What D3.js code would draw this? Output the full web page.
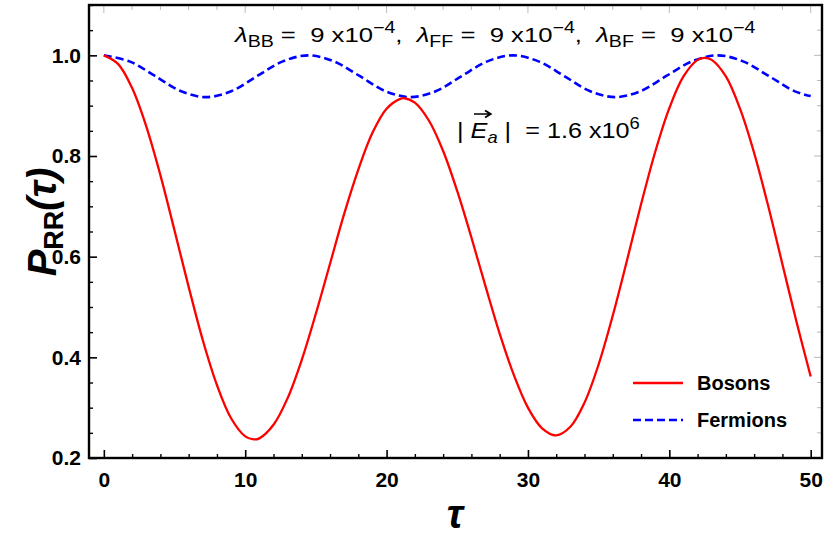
<!DOCTYPE html>
<html><head><meta charset="utf-8">
<script src="https://cdn.jsdelivr.net/npm/d3@7"></script>
<style>body{margin:0;background:#fff} text{white-space:pre}</style>
</head><body>
<script>
// ---- data ----
const bosonTau = [0,1,2,3,4,5,6,7,8,9,10,10.6,11,12,13,14,15,16,17,18,19,20,21,21.2,22,23,24,25,26,27,28,29,30,31,32,33,34,35,36,37,38,39,40,41,42,42.5,43,44,45,46,47,48,49,50];
const bosonP   = [1.0,0.983,0.935,0.859,0.762,0.652,0.540,0.434,0.345,0.279,0.243,0.237,0.239,0.266,0.319,0.395,0.487,0.586,0.685,0.773,0.846,0.894,0.914,0.915,0.906,0.870,0.810,0.730,0.638,0.541,0.447,0.365,0.300,0.259,0.245,0.262,0.310,0.386,0.483,0.592,0.704,0.808,0.895,0.958,0.991,0.995,0.991,0.958,0.894,0.806,0.700,0.585,0.470,0.362];
const fermionTau = [0,1.81,3.62,5.43,7.23,9.04,10.85,12.66,14.47,16.28,18.09,19.9,21.7,23.51,25.32,27.13,28.94,30.75,32.56,34.37,36.17,37.98,39.79,41.6,43.41,45.22,47.03,48.84,50];
const fermionP   = [1.0,0.988,0.959,0.929,0.917,0.929,0.959,0.988,1.0,0.988,0.959,0.929,0.917,0.929,0.959,0.988,1.0,0.988,0.959,0.929,0.917,0.929,0.959,0.988,1.0,0.988,0.959,0.929,0.919];
const xTicks = [0,10,20,30,40,50];
const yTicks = [0.2,0.4,0.6,0.8,1.0];
const yTickLabels = ["0.2","0.4","0.6","0.8","1.0"];
const legendLabels = ["Bosons","Fermions"];

const W = 830, H = 545;
const L = 89, R = 822, T = 5, B = 458;
const svg = d3.select("body").append("svg").attr("width", W).attr("height", H)
  .style("font-family", "'Liberation Sans', Arial, sans-serif");

const x = d3.scaleLinear().domain([-1.05, 50.8]).range([L, R]);
const y = d3.scaleLinear().domain([0.2, 1.1]).range([B, T]);

const narrow = "'Liberation Sans Narrow', 'Liberation Sans', Arial, sans-serif";

const xMinor = d3.range(0, 51, 2);
const yMinor = d3.range(0.2, 1.101, 0.05);
const isTenth = d => Math.abs(d * 5 - Math.round(d * 5)) < 1e-6;

// top/right gray ticks
const g = svg.append("g");
g.selectAll(".tt").data(xMinor).join("line")
  .attr("x1", d => x(d)).attr("x2", d => x(d))
  .attr("y1", T).attr("y2", d => T + (d % 10 === 0 ? 8 : 5))
  .attr("stroke", "#bbb").attr("stroke-width", 1);
g.selectAll(".rt").data(yMinor).join("line")
  .attr("y1", d => y(d)).attr("y2", d => y(d))
  .attr("x1", R).attr("x2", d => R - (isTenth(d) ? 8 : 5))
  .attr("stroke", "#bbb").attr("stroke-width", 1);

// bottom axis
const xAxis = d3.axisBottom(x).tickValues(xTicks).tickSize(-8).tickPadding(14).tickFormat(d3.format("d"));
const gx = svg.append("g").attr("transform", `translate(0,${B})`).call(xAxis);
gx.select(".domain").remove();
gx.selectAll(".tick line").attr("stroke", "#000").attr("stroke-width", 1.6);
gx.selectAll(".tick text").attr("font-family", narrow).attr("font-weight", "bold").attr("font-size", 21).attr("fill", "#000");
svg.append("g").attr("transform", `translate(0,${B})`)
  .call(d3.axisBottom(x).tickValues(xMinor.filter(d => d % 10 !== 0)).tickSize(-4).tickFormat(""))
  .call(s => { s.select(".domain").remove(); s.selectAll("line").attr("stroke", "#000").attr("stroke-width", 1.4); });

// left axis
const yAxis = d3.axisLeft(y).tickValues(yTicks).tickSize(-8).tickPadding(8).tickFormat((d, i) => yTickLabels[i]);
const gy = svg.append("g").attr("transform", `translate(${L},0)`).call(yAxis);
gy.select(".domain").remove();
gy.selectAll(".tick line").attr("stroke", "#000").attr("stroke-width", 1.6);
gy.selectAll(".tick text").attr("font-family", narrow).attr("font-weight", "bold").attr("font-size", 21).attr("fill", "#000");
svg.append("g").attr("transform", `translate(${L},0)`)
  .call(d3.axisLeft(y).tickValues(yMinor.filter(d => !isTenth(d))).tickSize(-4).tickFormat(""))
  .call(s => { s.select(".domain").remove(); s.selectAll("line").attr("stroke", "#000").attr("stroke-width", 1.4); });

// curves
const line = d3.line().x(d => x(d[0])).y(d => y(d[1])).curve(d3.curveCatmullRom);
svg.append("clipPath").attr("id", "c").append("rect").attr("x", L).attr("y", T).attr("width", R - L).attr("height", B - T);
svg.append("path").datum(fermionTau.map((t, i) => [t, fermionP[i]]))
  .attr("d", line).attr("fill", "none").attr("stroke", "#0000ff").attr("stroke-width", 2.6)
  .attr("stroke-dasharray", "8,4").attr("clip-path", "url(#c)");
svg.append("path").datum(bosonTau.map((t, i) => [t, bosonP[i]]))
  .attr("d", line).attr("fill", "none").attr("stroke", "#ff0000").attr("stroke-width", 2.3)
  .attr("clip-path", "url(#c)");

// frame
svg.append("rect").attr("x", L).attr("y", T).attr("width", R - L).attr("height", B - T)
  .attr("fill", "none").attr("stroke", "#000").attr("stroke-width", 2.4);

// helper: stretch a label horizontally to a target width
function fitWidth(grp, txt, x0, base, targetW) {
  const w = txt.node().getBBox().width;
  grp.attr("transform", `translate(${x0},${base}) scale(${targetW / w},1)`);
}

// annotation: lambdas
const annG = svg.append("g");
const ann = annG.append("text").attr("x", 0).attr("y", 0).attr("font-size", 21).attr("fill", "#000");
["BB", "FF", "BF"].forEach((s, i) => {
  ann.append("tspan").attr("font-style", "italic").text("λ");
  ann.append("tspan").attr("font-size", 16).attr("dy", 5).text(s);
  ann.append("tspan").attr("dy", -5).text(" =  9 x10");
  ann.append("tspan").attr("font-size", 16).attr("dy", -9).text("−4");
  ann.append("tspan").attr("dy", 9).text(i < 2 ? ",  " : "");
});
fitWidth(annG, ann, 235, 42, 522);

// annotation: |E_a|
const eaG = svg.append("g");
const ea = eaG.append("text").attr("x", 0).attr("y", 0).attr("font-size", 22).attr("fill", "#000");
ea.append("tspan").text("| ");
ea.append("tspan").attr("font-style", "italic").text("E");
ea.append("tspan").attr("font-style", "italic").attr("font-size", 16).attr("dy", 5).text("a");
ea.append("tspan").attr("dy", -5).text(" |  = 1.6 x10");
ea.append("tspan").attr("font-size", 16).attr("dy", -9).text("6");
fitWidth(eaG, ea, 457, 138, 183);
// vector arrow over E
const ext = ea.node().getExtentOfChar(2);
const ax0 = ext.x + 3, ax1 = ext.x + ext.width + 3, ay = -24;
eaG.append("path").attr("d", `M${ax0},${ay}H${ax1}M${ax1 - 5},${ay - 3.5}L${ax1},${ay}L${ax1 - 5},${ay + 3.5}`)
  .attr("fill", "none").attr("stroke", "#000").attr("stroke-width", 1.6);

// axis titles
const yt = svg.append("text").attr("transform", "translate(56,222) rotate(-90)")
  .attr("text-anchor", "middle").attr("font-weight", "bold").attr("font-size", 40).attr("fill", "#000");
yt.append("tspan").attr("font-style", "italic").text("P");
yt.append("tspan").attr("font-size", 27).attr("dy", 7).text("RR");
yt.append("tspan").attr("dy", -7).attr("font-style", "italic").text("(τ)");
svg.append("text").attr("x", 455).attr("y", 528).attr("text-anchor", "middle")
  .attr("font-weight", "bold").attr("font-style", "italic").attr("font-size", 40).attr("fill", "#000").text("τ");

// legend
const lg = svg.append("g");
const legY = [383, 420];
lg.append("line").attr("x1", 633).attr("x2", 683).attr("y1", legY[0]).attr("y2", legY[0]).attr("stroke", "#ff0000").attr("stroke-width", 2.3);
lg.append("line").attr("x1", 633).attr("x2", 683).attr("y1", legY[1]).attr("y2", legY[1]).attr("stroke", "#0000ff").attr("stroke-width", 2.6).attr("stroke-dasharray", "8,4");
legendLabels.forEach((t, i) => {
  lg.append("text").attr("x", 697).attr("y", legY[i] + 7).attr("font-size", 20).attr("font-weight", "bold").attr("fill", "#000").text(t);
});
</script>
</body></html>
